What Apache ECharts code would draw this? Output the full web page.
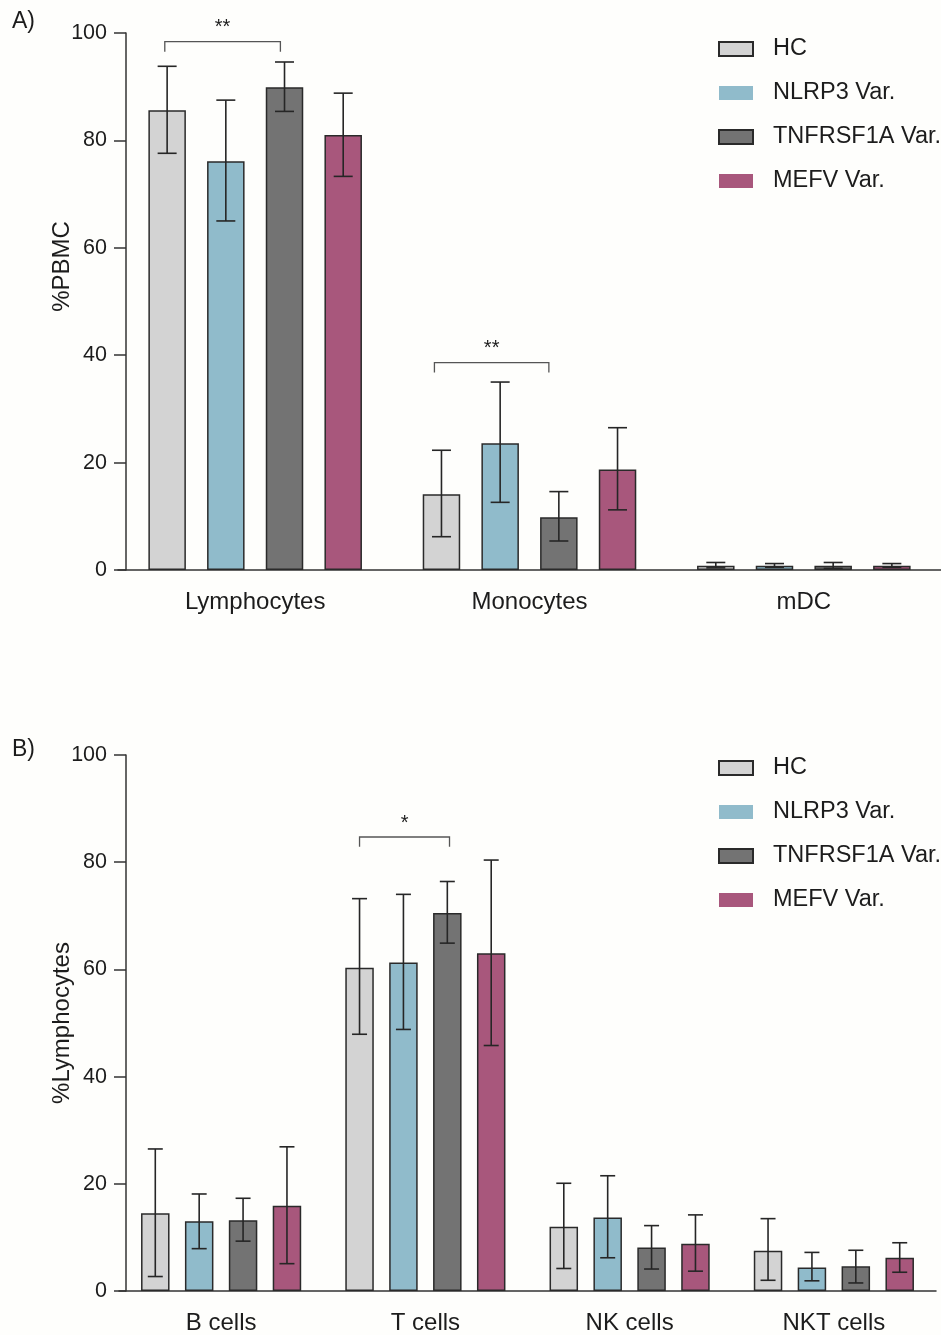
<!DOCTYPE html>
<html>
<head>
<meta charset="utf-8">
<script src="https://cdn.jsdelivr.net/npm/echarts@6/dist/echarts.min.js"></script>
<style>
html,body{margin:0;padding:0;background:#fefefc;}
#chart{width:941px;height:1335px;}
</style>
</head>
<body>
<div id="chart"></div>
<script>
// ---------- data ----------
const groups = ['HC', 'NLRP3 Var.', 'TNFRSF1A Var.', 'MEFV Var.'];
const colors = ['#d3d3d3', '#90bbcb', '#737373', '#a8577c'];
const yTicks = [0, 20, 40, 60, 80, 100];

// Panel A: %PBMC
const catsA = ['Lymphocytes', 'Monocytes', 'mDC'];
const hcA = [85.6, 14.1, 0.8];
const nlrp3A = [76.1, 23.6, 0.8];
const tnfA = [89.9, 9.8, 0.8];
const mefvA = [81.0, 18.7, 0.8];
const hcAErr = [[77.6, 93.8], [6.2, 22.3], [0.4, 1.4]];
const nlrp3AErr = [[65.0, 87.5], [12.6, 35.0], [0.5, 1.2]];
const tnfAErr = [[85.4, 94.6], [5.4, 14.6], [0.3, 1.4]];
const mefvAErr = [[73.3, 88.8], [11.2, 26.5], [0.5, 1.2]];
// significance: [category, from bar pos, to bar pos, bracket y, leg end y]
const sigA = [[0, -0.04, 1.93, 98.4, 96.5], [1, -0.12, 1.83, 38.6, 36.8]];
const sigAText = ['**', '**'];

// Panel B: %Lymphocytes
const catsB = ['B cells', 'T cells', 'NK cells', 'NKT cells'];
const hcB = [14.5, 60.3, 12.0, 7.5];
const nlrp3B = [13.0, 61.3, 13.7, 4.4];
const tnfB = [13.2, 70.5, 8.1, 4.6];
const mefvB = [15.9, 63.0, 8.8, 6.2];
const hcBErr = [[2.7, 26.5], [47.9, 73.2], [4.2, 20.1], [2.0, 13.5]];
const nlrp3BErr = [[7.9, 18.1], [48.8, 74.0], [6.2, 21.5], [1.9, 7.2]];
const tnfBErr = [[9.3, 17.3], [64.9, 76.4], [4.1, 12.2], [1.5, 7.6]];
const mefvBErr = [[5.1, 26.9], [45.8, 80.4], [3.7, 14.2], [3.5, 9.0]];
const sigB = [[1, 0, 2.05, 84.7, 82.9]];
const sigBText = ['*'];

// ---------- styling ----------
const FONT = 'Liberation Sans, Arial, sans-serif';
const AXC = '#333';
const TXT = '#1c1c1c';
const panelA = {bw: 37.5, gapPct: 56.5, cap: 19};
const panelB = {bw: 28.5, gapPct: 54, cap: 15};

function errRender(pos, p) {
  const step = p.bw * (1 + p.gapPct / 100);
  return function (params, api) {
    const c = api.value(0);
    const lo = api.coord([c, api.value(1)]);
    const hi = api.coord([c, api.value(2)]);
    const x = lo[0] + (pos - 1.5) * step;
    const st = {stroke: '#262626', lineWidth: 1.6};
    const h = p.cap / 2;
    return {
      type: 'group',
      children: [
        {type: 'line', shape: {x1: x, y1: hi[1], x2: x, y2: lo[1]}, style: st},
        {type: 'line', shape: {x1: x - h, y1: hi[1], x2: x + h, y2: hi[1]}, style: st},
        {type: 'line', shape: {x1: x - h, y1: lo[1], x2: x + h, y2: lo[1]}, style: st}
      ]
    };
  };
}

function sigRender(p, texts) {
  const step = p.bw * (1 + p.gapPct / 100);
  return function (params, api) {
    const c = api.value(0);
    const base = api.coord([c, api.value(3)]);
    const legY = api.coord([c, api.value(4)])[1];
    const x1 = base[0] + (api.value(1) - 1.5) * step;
    const x2 = base[0] + (api.value(2) - 1.5) * step;
    const y = base[1];
    const st = {stroke: '#555', lineWidth: 1.3, fill: null};
    return {
      type: 'group',
      children: [
        {type: 'polyline', shape: {points: [[x1, legY], [x1, y], [x2, y], [x2, legY]]}, style: st},
        {type: 'text', style: {text: texts[params.dataIndex], x: (x1 + x2) / 2, y: y - 14,
          align: 'center', verticalAlign: 'middle', font: '20px ' + FONT, fill: TXT}}
      ]
    };
  };
}

function barSeries(name, data, idx, axisIdx, p) {
  return {
    type: 'bar', name: name, data: data,
    xAxisIndex: axisIdx, yAxisIndex: axisIdx,
    barWidth: p.bw, barGap: p.gapPct + '%',
    itemStyle: {color: colors[idx], borderColor: '#2a2a2a', borderWidth: 1.5},
    emphasis: {disabled: true}, z: 2
  };
}

function errSeries(errs, idx, axisIdx, p) {
  return {
    type: 'custom', xAxisIndex: axisIdx, yAxisIndex: axisIdx,
    data: errs.map((e, i) => [i, e[0], e[1]]),
    encode: {x: 0, y: [1, 2]},
    renderItem: errRender(idx, p), z: 5, silent: true, clip: false
  };
}

function sigSeries(sig, texts, axisIdx, p) {
  return {
    type: 'custom', xAxisIndex: axisIdx, yAxisIndex: axisIdx,
    data: sig, encode: {x: 0, y: 3},
    renderItem: sigRender(p, texts), z: 6, silent: true, clip: false
  };
}

function xAxisDef(cats, grid) {
  return {
    type: 'category', gridIndex: grid, data: cats,
    axisLine: {lineStyle: {color: AXC, width: 1.5}},
    axisTick: {alignWithLabel: true, length: 12, lineStyle: {color: AXC, width: 1.5}},
    axisLabel: {color: TXT, fontSize: 24, fontFamily: FONT, margin: 20},
    splitLine: {show: false}
  };
}

function yAxisDef(name, grid, off, namePad) {
  return {
    type: 'value', gridIndex: grid, min: yTicks[0], max: yTicks[yTicks.length - 1], interval: 20,
    offset: off,
    name: name, nameLocation: 'middle', nameGap: 52, nameMoveOverlap: false,
    nameTextStyle: {color: TXT, fontSize: 24, fontFamily: FONT, padding: namePad},
    axisLine: {show: true, lineStyle: {color: AXC, width: 1.5}},
    axisTick: {show: true, length: 12, lineStyle: {color: AXC, width: 1.5}},
    axisLabel: {color: TXT, fontSize: 21.5, fontFamily: FONT, margin: 19},
    splitLine: {show: false}
  };
}

function legendDef(top) {
  return {
    top: top, left: 713, orient: 'vertical', icon: 'rect',
    itemWidth: 34, itemHeight: 14, itemGap: 18,
    textStyle: {fontSize: 23.5, fontFamily: FONT, color: TXT, lineHeight: 26, padding: [0, 0, 0, 15]},
    selectedMode: false,
    data: [
      {name: groups[0]},
      {name: groups[1], itemStyle: {borderWidth: 0}},
      {name: groups[2]},
      {name: groups[3], itemStyle: {borderWidth: 0}}
    ]
  };
}

const chart = echarts.init(document.getElementById('chart'), null, {renderer: 'canvas'});
chart.setOption({
  backgroundColor: '#fefefc',
  animation: false,
  title: [
    {text: 'A)', left: 7, top: 5, textStyle: {fontSize: 23, fontWeight: 'normal', fontFamily: FONT, color: TXT}},
    {text: 'B)', left: 7, top: 733, textStyle: {fontSize: 23, fontWeight: 'normal', fontFamily: FONT, color: TXT}}
  ],
  legend: [legendDef(31), legendDef(750)],
  grid: [
    {left: 118, right: 0, top: 33, height: 537},
    {left: 119, right: 5, top: 755, height: 537.5}
  ],
  xAxis: [xAxisDef(catsA, 0), xAxisDef(catsB, 1)],
  yAxis: [yAxisDef('%PBMC', 0, -8, [0, 0, 0, 70]), yAxisDef('%Lymphocytes', 1, -7, 0)],
  series: [
    barSeries(groups[0], hcA, 0, 0, panelA),
    barSeries(groups[1], nlrp3A, 1, 0, panelA),
    barSeries(groups[2], tnfA, 2, 0, panelA),
    barSeries(groups[3], mefvA, 3, 0, panelA),
    errSeries(hcAErr, 0, 0, panelA),
    errSeries(nlrp3AErr, 1, 0, panelA),
    errSeries(tnfAErr, 2, 0, panelA),
    errSeries(mefvAErr, 3, 0, panelA),
    sigSeries(sigA, sigAText, 0, panelA),
    barSeries(groups[0], hcB, 0, 1, panelB),
    barSeries(groups[1], nlrp3B, 1, 1, panelB),
    barSeries(groups[2], tnfB, 2, 1, panelB),
    barSeries(groups[3], mefvB, 3, 1, panelB),
    errSeries(hcBErr, 0, 1, panelB),
    errSeries(nlrp3BErr, 1, 1, panelB),
    errSeries(tnfBErr, 2, 1, panelB),
    errSeries(mefvBErr, 3, 1, panelB),
    sigSeries(sigB, sigBText, 1, panelB)
  ]
});
</script>
</body>
</html>
